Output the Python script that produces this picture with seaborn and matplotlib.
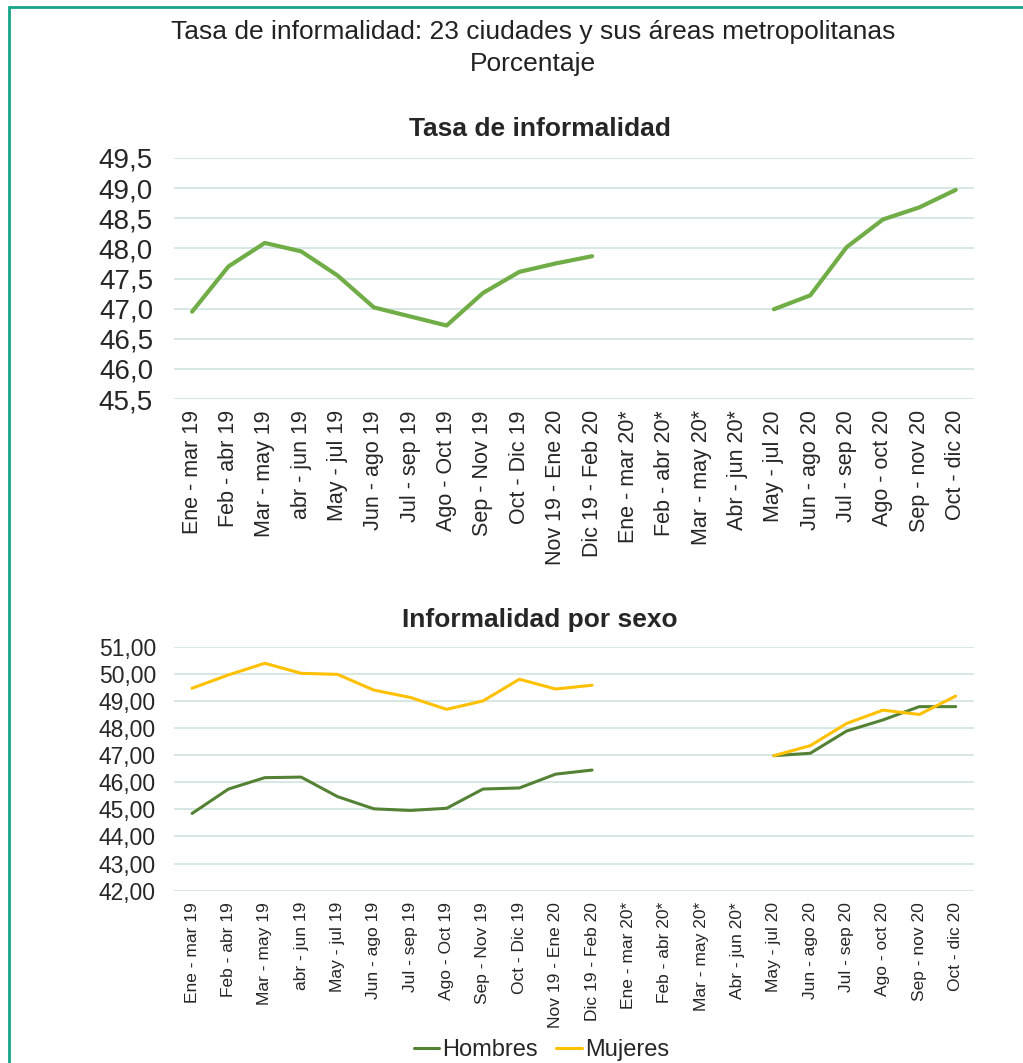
import numpy as np
import pandas as pd
import matplotlib.pyplot as plt
import seaborn as sns
from matplotlib.lines import Line2D

periodos = [
    "Ene - mar 19", "Feb - abr 19", "Mar - may 19", "abr - jun 19", "May - jul 19",
    "Jun - ago 19", "Jul - sep 19", "Ago - Oct 19", "Sep - Nov 19", "Oct - Dic 19",
    "Nov 19 - Ene 20", "Dic 19 - Feb 20", "Ene - mar 20*", "Feb - abr 20*",
    "Mar - may 20*", "Abr - jun 20*", "May - jul 20", "Jun - ago 20", "Jul - sep 20",
    "Ago - oct 20", "Sep - nov 20", "Oct - dic 20",
]

tasa_total = [46.95, 47.70, 48.09, 47.95, 47.55, 47.02, 46.87, 46.72, 47.26, 47.61,
              47.75, 47.87, np.nan, np.nan, np.nan, np.nan,
              46.99, 47.22, 48.02, 48.48, 48.68, 48.97]
hombres = [44.85, 45.75, 46.17, 46.19, 45.47, 45.02, 44.96, 45.04, 45.75, 45.79,
           46.30, 46.45, np.nan, np.nan, np.nan, np.nan,
           46.98, 47.07, 47.89, 48.30, 48.79, 48.79]
mujeres = [49.47, 49.96, 50.39, 50.02, 49.98, 49.40, 49.13, 48.69, 49.00, 49.80,
           49.44, 49.58, np.nan, np.nan, np.nan, np.nan,
           46.98, 47.35, 48.17, 48.66, 48.50, 49.18]

VERDE = "#70AD47"
VERDE_OSC = "#548235"
AMARILLO = "#FFC000"
GRID = "#cfe3de"
BORDE = "#17a589"

sns.set_theme(style="white")
plt.rcParams["font.family"] = ["Liberation Sans", "DejaVu Sans"]

# positions + segment id so the line breaks over the starred months
pos = np.arange(len(periodos))
tramo = np.where(pos < 12, 0, 1)

df_total = pd.DataFrame({"pos": pos, "valor": tasa_total, "tramo": tramo}).dropna()
df_sexo = pd.concat([
    pd.DataFrame({"pos": pos, "valor": hombres, "tramo": tramo, "sexo": "Hombres"}),
    pd.DataFrame({"pos": pos, "valor": mujeres, "tramo": tramo, "sexo": "Mujeres"}),
]).dropna()

fig = plt.figure(figsize=(10.23, 10.63), dpi=100)

fig.text(0.521, 0.970, "Tasa de informalidad: 23 ciudades y sus áreas metropolitanas",
         ha="center", va="center", fontsize=19, color="#222222")
fig.text(0.521, 0.940, "Porcentaje", ha="center", va="center", fontsize=19, color="#222222")

TITLE_X = 0.458  # titles are centred on the figure, not on the axes

ax1 = fig.add_axes([0.170, 0.6246, 0.782, 0.2268])
sns.lineplot(data=df_total, x="pos", y="valor", units="tramo", estimator=None,
             color=VERDE, linewidth=3, ax=ax1)
ax1.set_ylim(45.5, 49.5)
ax1.set_yticks(np.arange(45.5, 49.51, 0.5))
ax1.set_yticklabels([f"{v:.1f}".replace(".", ",") for v in np.arange(45.5, 49.51, 0.5)],
                    fontsize=20)
ax1.set_xlim(-0.5, len(periodos) - 0.5)
ax1.set_xticks(pos)
ax1.set_xticklabels(periodos, rotation=90, fontsize=15.5)
ax1.set_xlabel("")
ax1.set_ylabel("")
ax1.set_title("Tasa de informalidad", fontsize=19, fontweight="bold", pad=16, x=TITLE_X)
ax1.grid(axis="y", color=GRID, linewidth=1.2)
ax1.set_axisbelow(True)
sns.despine(ax=ax1, left=True, bottom=True)
ax1.tick_params(axis="y", length=0, pad=15)
ax1.tick_params(axis="x", length=0, pad=8)

ax2 = fig.add_axes([0.170, 0.1621, 0.782, 0.2295])
sns.lineplot(data=df_sexo, x="pos", y="valor", hue="sexo", units="tramo", estimator=None,
             palette={"Hombres": VERDE_OSC, "Mujeres": AMARILLO}, linewidth=2.2,
             ax=ax2, legend=False)
ax2.set_ylim(42, 51)
ax2.set_yticks(np.arange(42, 51.01, 1))
ax2.set_yticklabels([f"{v:.2f}".replace(".", ",") for v in np.arange(42, 51.01, 1)],
                    fontsize=16.5)
ax2.set_xlim(-0.5, len(periodos) - 0.5)
ax2.set_xticks(pos)
ax2.set_xticklabels(periodos, rotation=90, fontsize=12.5)
ax2.set_xlabel("")
ax2.set_ylabel("")
ax2.set_title("Informalidad por sexo", fontsize=19, fontweight="bold", pad=14, x=TITLE_X)
ax2.grid(axis="y", color=GRID, linewidth=1.2)
ax2.set_axisbelow(True)
sns.despine(ax=ax2, left=True, bottom=True)
ax2.tick_params(axis="y", length=0, pad=13)
ax2.tick_params(axis="x", length=0, pad=8)

handles = [Line2D([0], [0], color=VERDE_OSC, lw=2.2), Line2D([0], [0], color=AMARILLO, lw=2.2)]
fig.legend(handles, ["Hombres", "Mujeres"], loc="center", bbox_to_anchor=(0.529, 0.012),
           ncol=2, frameon=False, fontsize=17, handlelength=1.1, handletextpad=0.1,
           columnspacing=0.8)

# teal frame on the left and top edges
fig.add_artist(Line2D([0.0085, 0.0085], [0.0, 0.9935], color=BORDE, lw=2, transform=fig.transFigure))
fig.add_artist(Line2D([0.0085, 1.0], [0.9935, 0.9935], color=BORDE, lw=2, transform=fig.transFigure))

fig.savefig("out.png", dpi=100, facecolor="white")
